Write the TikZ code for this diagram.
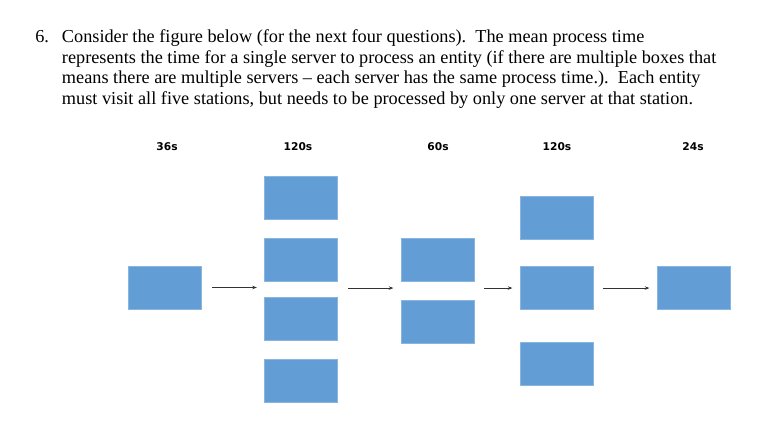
\documentclass[tikz,border=0pt]{standalone}
\usepackage{fontspec}
\setmainfont{Liberation Serif}
\newfontfamily\timefont{DejaVu Sans}
\usepackage{tikz}
\usetikzlibrary{arrows.meta}
\usetikzlibrary{positioning}
\definecolor{serverblue}{RGB}{98,157,213}

\begin{document}
\begin{tikzpicture}[x=0.75pt,y=-0.75pt,server/.style={fill=serverblue,draw=serverblue!75!white,line width=0.4pt,minimum width=54.75pt,minimum height=32.25pt,inner sep=0pt},timelabel/.style={font=\timefont\bfseries\fontsize{8}{9}\selectfont},line/.style={anchor=base west,inner sep=0pt,font=\fontsize{13.7}{15}\selectfont},flow/.style={draw=black!80,line width=0.5pt,-{Stealth[length=3.5pt,width=2.6pt]},shorten <=7.5pt,shorten >=5.5pt}]
  \useasboundingbox (0,0) rectangle (767,446);
  %question
  \node[line,anchor=base west] (num) at (35,42.7) {6.};
  \node[line] (q1) at (61.7,42.7) {Consider the figure below (for the next four questions).\ \ The mean process time};
  \node[line] (q2) at (61.7,63.3) {represents the time for a single server to process an entity (if there are multiple boxes that};
  \node[line] (q3) at (61.7,83.8) {means there are multiple servers -- each server has the same process time.).\ \ Each entity};
  \node[line] (q4) at (61.7,104.3) {must visit all five stations, but needs to be processed by only one server at that station.};

  %stations
  \node[server] (s1) at (165,287.5) {};
  \node[server] (s2a) at (301,198) {};
  \node[server] (s2b) at (301,259.5) {};
  \node[server] (s2c) at (301,318.5) {};
  \node[server] (s2d) at (301,381) {};
  \node[server] (s3a) at (437.5,259.5) {};
  \node[server] (s3b) at (437.5,322) {};
  \node[server] (s4a) at (556.5,218) {};
  \node[server] (s4b) at (556.5,287.5) {};
  \node[server] (s4c) at (556.5,364) {};
  \node[server] (s5) at (693.5,287.5) {};

  %process times
  \node[timelabel] (t1) at (167,147) {36s};
  \node[timelabel] (t2) at (298,147) {120s};
  \node[timelabel] (t3) at (438,147) {60s};
  \node[timelabel] (t4) at (557,147) {120s};
  \node[timelabel] (t5) at (693,147) {24s};

  %flow
  \draw[flow] (s1.east) -- (s1.east -| s2a.west);
  \draw[flow] ([yshift=-0.4pt]s1.east -| s2a.east) -- ([yshift=-0.4pt]s1.east -| s3a.west);
  \draw[flow] ([yshift=-0.4pt]s1.east -| s3a.east) -- ([yshift=-0.4pt]s4b.west);
  \draw[flow] ([yshift=-0.4pt]s4b.east) -- ([yshift=-0.4pt]s5.west);
\end{tikzpicture}
\end{document}
